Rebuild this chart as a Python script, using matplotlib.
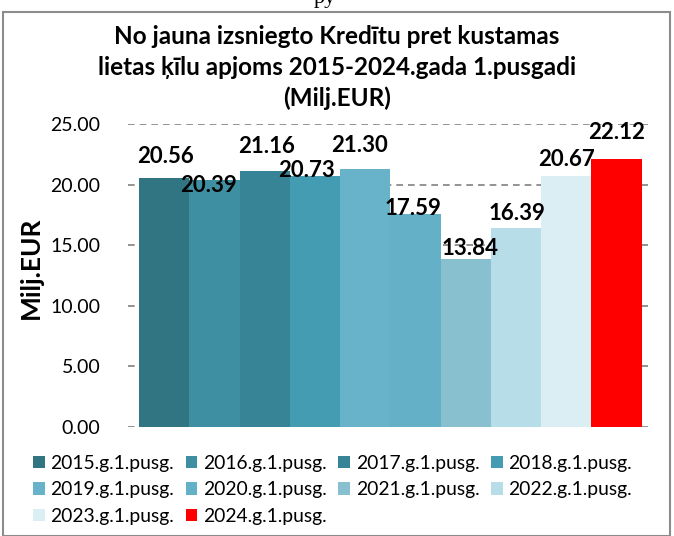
import matplotlib
matplotlib.use("Agg")
import matplotlib.pyplot as plt
from matplotlib.patches import Rectangle, Patch

plt.rcParams['font.family'] = ['Lato', 'DejaVu Sans']

# ---------------------------------------------------------------- data
years = ['2015', '2016', '2017', '2018', '2019', '2020', '2021', '2022', '2023', '2024']
values = [20.56, 20.39, 21.16, 20.73, 21.30, 17.59, 13.84, 16.39, 20.67, 22.12]
legend_labels = [y + '.g.1.pusg.' for y in years]
colors = ['#317583', '#3F8FA3', '#378496', '#449CB3', '#68B3CA',
          '#64B0C7', '#88C0D0', '#B7DEE8', '#DBEEF3', '#FF0000']
# label offsets (points) to mimic the staggered Excel labels
lab_dx = [1, -4, 1, -6, -4, -2, 3, 1, 0, 0]
lab_dy = [15, -4, 17, 4, 17, 4, 8, 11, 12, 19]

fig = plt.figure(figsize=(6.74, 5.36), dpi=100)
ax = fig.add_axes([0.19, 0.2034, 0.777, 0.5653])

x = list(range(len(values)))
bars = ax.bar(x, values, width=1.0, color=colors, zorder=2)

for i, v in enumerate(values):
    ax.annotate('%.2f' % v, (x[i], v), xytext=(lab_dx[i], lab_dy[i]),
                textcoords='offset points', ha='center', va='center',
                fontsize=16, fontweight='bold', zorder=3)

ax.set_ylim(0, 25)
ax.set_xlim(-0.72, 9.7)
ax.set_yticks([0, 5, 10, 15, 20, 25])
ax.set_yticklabels(['%.2f' % t for t in [0, 5, 10, 15, 20, 25]], fontsize=14)
ax.set_xticks([])
ax.tick_params(axis='y', length=0)
for t in ax.yaxis.get_major_ticks():
    t.set_pad(20)
ax.yaxis.grid(True, linestyle=(0, (4, 3)), color='#808080', linewidth=1.2, zorder=0)
ax.set_axisbelow(True)
for s in ax.spines.values():
    s.set_visible(False)
ax.set_ylabel('Milj.EUR', fontsize=19, fontweight='bold', labelpad=5.5)
ax.yaxis.label.set_y(0.525)

fig.text(0.5, 0.874, 'No jauna izsniegto Kredītu pret kustamas\nlietas ķīlu apjoms 2015-2024.gada 1.pusgadi\n(Milj.EUR)',
         ha='center', va='center', fontsize=17.5, fontweight='bold', linespacing=1.42)

# cut-off text above the chart frame (as in the screenshot)
fig.text(0.482, 0.9953, 'py', ha='center', va='baseline', fontsize=16,
         family='Liberation Serif')

# legend is filled row by row in the reference
order = [0, 4, 8, 1, 5, 9, 2, 6, 3, 7]
handles = [Patch(facecolor=colors[k]) for k in order]
labels = [legend_labels[k] for k in order]
leg = fig.legend(handles, labels, loc='upper left', bbox_to_anchor=(0.049, 0.152),
                 ncol=4, frameon=False, fontsize=13.9, handlelength=0.6, handleheight=0.6,
                 handletextpad=0.3, columnspacing=0.6, labelspacing=0.5, borderaxespad=0,
                 borderpad=0)

# outer chart border
fig.patches.append(Rectangle((0.005, 0.0), 0.989, 0.978, transform=fig.transFigure,
                             fill=False, edgecolor='#8c8c8c', linewidth=1.5))

fig.savefig('out.png', dpi=100)
